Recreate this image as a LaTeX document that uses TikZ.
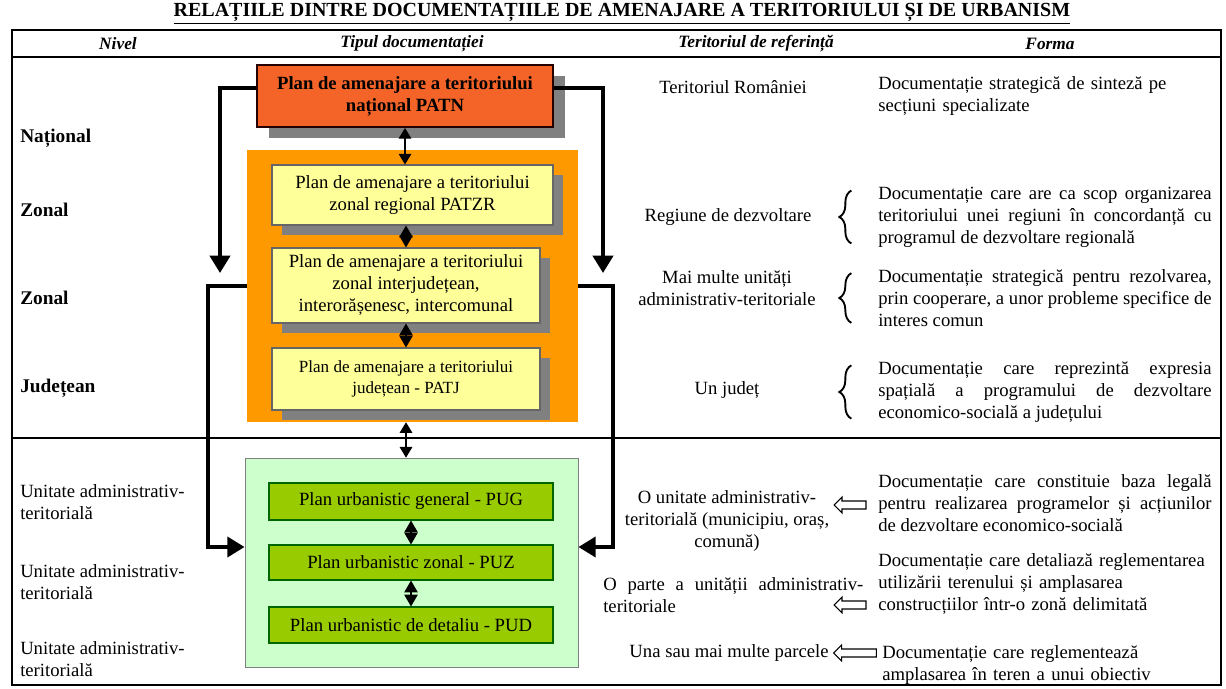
\documentclass[tikz,border=0pt]{standalone}
\usepackage{fontspec}
\setmainfont{Liberation Serif}
\usepackage{tikz}
\usetikzlibrary{arrows.meta,shapes.arrows,shadows,decorations.pathreplacing}
\definecolor{patnred}{RGB}{244,100,40}
\definecolor{zoneorange}{RGB}{255,153,0}
\definecolor{planyellow}{RGB}{255,255,153}
\definecolor{urbpale}{RGB}{204,255,204}
\definecolor{urbgreen}{RGB}{153,204,0}
\hyphenpenalty=10000

\begin{document}
\begin{tikzpicture}[x=0.75pt,y=-0.75pt,>=Stealth,
		every node/.style={inner sep=0pt,font=\fontsize{14}{16.5}\selectfont},
		head/.style={font=\fontsize{13}{15}\selectfont\bfseries\itshape},
		lvl/.style={anchor=west,font=\fontsize{14.5}{17}\selectfont\bfseries},
		unit/.style={anchor=west,align=left},
		mid/.style={align=center},
		form/.style={anchor=west,text width=250pt},
		plan/.style={draw=black!60,line width=0.8pt,fill=planyellow,align=center,
			drop shadow={shadow xshift=7.5pt,shadow yshift=-7.5pt,fill=black!50,opacity=1}},
		urb/.style={draw=black!60!green,line width=0.8pt,fill=urbgreen,minimum width=213pt},
		dbl/.style={<->,>={Triangle[length=8pt,width=9.5pt]},line width=0.9pt},
		dia/.style={<->,>={Triangle[length=8.8pt,width=10pt]},line width=0.8pt},
		link/.style={->,>={Triangle[length=13pt,width=15pt]},line width=3pt},
		brc/.style={decorate,decoration={brace,amplitude=9pt},line width=1.4pt},
		harrow/.style={single arrow,draw,line width=0.8pt,shape border rotate=180,inner sep=2.6pt,
			single arrow head extend=3pt}]
		\useasboundingbox (0,0) rectangle (1226,688);
		\node[font=\fontsize{15}{18}\selectfont\bfseries] (title) at (622,14)
		{\underline{RELAȚIILE DINTRE DOCUMENTAȚIILE DE AMENAJARE A TERITORIULUI ȘI DE URBANISM}};
		% table frame
		\draw[line width=2pt] (12,30) rectangle (1221,685);
		\draw[line width=2pt] (12,57) -- (1221,57);
		\draw[line width=2pt] (12,438) -- (1221,438);
		\node[head] (hniv) at (118,44) {Nivel};
		\node[head] (htip) at (412,44) {Tipul documentației};
		\node[head] (hter) at (756,44) {Teritoriul de referință};
		\node[head] (hfor) at (1050,44) {Forma};
		% levels
		\node[lvl] (nat) at (20,138) {Național};
		\node[lvl] (zon1) at (20,210) {Zonal};
		\node[lvl] (zon2) at (20,298) {Zonal};
		\node[lvl] (jud) at (20,388) {Județean};
		\node[unit] (u1) at (20,502) {Unitate administrativ-\\teritorială};
		\node[unit] (u2) at (20,582) {Unitate administrativ-\\teritorială};
		\node[unit] (u3) at (20,659) {Unitate administrativ-\\teritorială};
		% documentation boxes
		\node[fill=zoneorange,minimum width=248.25pt,minimum height=204pt] (zone) at (412.5,286) {};
		\node[draw=black!50,fill=urbpale,line width=0.6pt,minimum width=249.75pt,minimum height=156.75pt] (urban) at (411.5,562.5) {};
		\node[draw=black!85!red,line width=1.5pt,fill=patnred,align=center,minimum width=222pt,minimum height=46.5pt,
			font=\fontsize{14}{16.5}\selectfont\bfseries,
			drop shadow={shadow xshift=9pt,shadow yshift=-8pt,fill=black!50,opacity=1}] (patn) at (405,96)
		{Plan de amenajare a teritoriului\\național PATN};
		\node[plan,minimum width=210.75pt,minimum height=45pt] (patzr) at (412.5,195)
		{Plan de amenajare a teritoriului\\zonal regional PATZR};
		\node[plan,minimum width=201pt,minimum height=56.25pt] (inter) at (406,285.5)
		{Plan de amenajare a teritoriului\\zonal interjudețean,\\interorășenesc, intercomunal};
		\node[plan,minimum width=201pt,minimum height=46.5pt,font=\fontsize{12.8}{15.5}\selectfont] (patj) at (406,379)
		{Plan de amenajare a teritoriului\\județean - PATJ};
		\node[urb,minimum height=27.75pt] (pug) at (411,501.5) {Plan urbanistic general - PUG};
		\node[urb,minimum height=26.25pt] (puz) at (411,562.5) {Plan urbanistic zonal - PUZ};
		\node[urb,minimum height=27pt] (pud) at (411,625) {Plan urbanistic de detaliu - PUD};
		\draw[dbl] (patn.south) -- (patn.south |- patzr.north);
		\draw[dia] (inter.north) -- (inter.north |- patzr.south);
		\draw[dia] (inter.south) -- (patj.north);
		\draw[dbl] (zone.south -| patj) -- (urban.north -| patj);
		\draw[dia] (pug.south) -- (puz.north);
		\draw[dia] (puz.south) -- (pud.north);
		% thick links
		\coordinate (lend) at (220,273);
		\coordinate (rend) at (603,273);
		\coordinate (lbend) at (208,547);
		\coordinate (rbend) at (613,547);
		\draw[link] ([yshift=6pt]patn.west) -| (lend);
		\draw[link] ([yshift=6pt]patn.east) -| (rend);
		\draw[link] (zone.west) -| (lbend) -- (lbend -| urban.west);
		\draw[link] (zone.east) -| (rbend) -- (rbend -| urban.east);
		% territory
		\node[mid] (t1) at (733,87) {Teritoriul României};
		\node[mid] (t2) at (728,217) {Regiune de dezvoltare};
		\node[mid] (t3) at (727,288) {Mai multe unități\\administrativ-teritoriale};
		\node[mid] (t4) at (727,390) {Un județ};
		\node[mid] (t5) at (727,521) {O unitate administrativ-\\teritorială (municipiu, oraș,\\comună)};
		\node[anchor=west,text width=195pt,align=justify] (t6) at (603,595)
		{O parte a unității administrativ-\linebreak teritoriale};
		\node[mid] (t7) at (729,653) {Una sau mai multe parcele};
		% form
		\node[form,align=left] (f1) at (878,96) {Documentație strategică de sinteză pe\\secțiuni specializate};
		\node[form,align=justify] (f2) at (878,217) {Documentație care are ca scop organizarea\linebreak
			teritoriului unei regiuni în concordanță cu\linebreak programul de dezvoltare regională};
		\node[form,align=justify] (f3) at (878,298) {Documentație strategică pentru rezolvarea,\linebreak
			prin cooperare, a unor probleme specifice de\linebreak interes comun};
		\node[form,align=justify] (f4) at (878,392) {Documentație care reprezintă expresia\linebreak
			spațială a programului de dezvoltare\linebreak economico-socială a județului};
		\node[form,align=justify] (f5) at (878,503) {Documentație care constituie baza legală\linebreak
			pentru realizarea programelor și acțiunilor\linebreak de dezvoltare economico-socială};
		\node[form,align=left] (f6) at (878,584) {Documentație care detaliază reglementarea\\
			utilizării terenului și amplasarea\\construcțiilor într-o zonă delimitată};
		\node[form,align=left] (f7) at (882,665) {Documentație care reglementează\\amplasarea în teren a unui obiectiv};
		\draw[brc] ([xshift=-20pt,yshift=3pt]f2.south west) -- ([xshift=-20pt,yshift=-3pt]f2.north west);
		\draw[brc] ([xshift=-20pt,yshift=3pt]f3.south west) -- ([xshift=-20pt,yshift=-3pt]f3.north west);
		\draw[brc] ([xshift=-20pt,yshift=3pt]f4.south west) -- ([xshift=-20pt,yshift=-3pt]f4.north west);
		\node[harrow,minimum height=24pt] (a1) at (852,505) {};
		\node[harrow,minimum height=24pt] (a2) at (852,605) {};
		\node[harrow,minimum height=32pt] (a3) at (857,653) {};
\end{tikzpicture}
\end{document}
